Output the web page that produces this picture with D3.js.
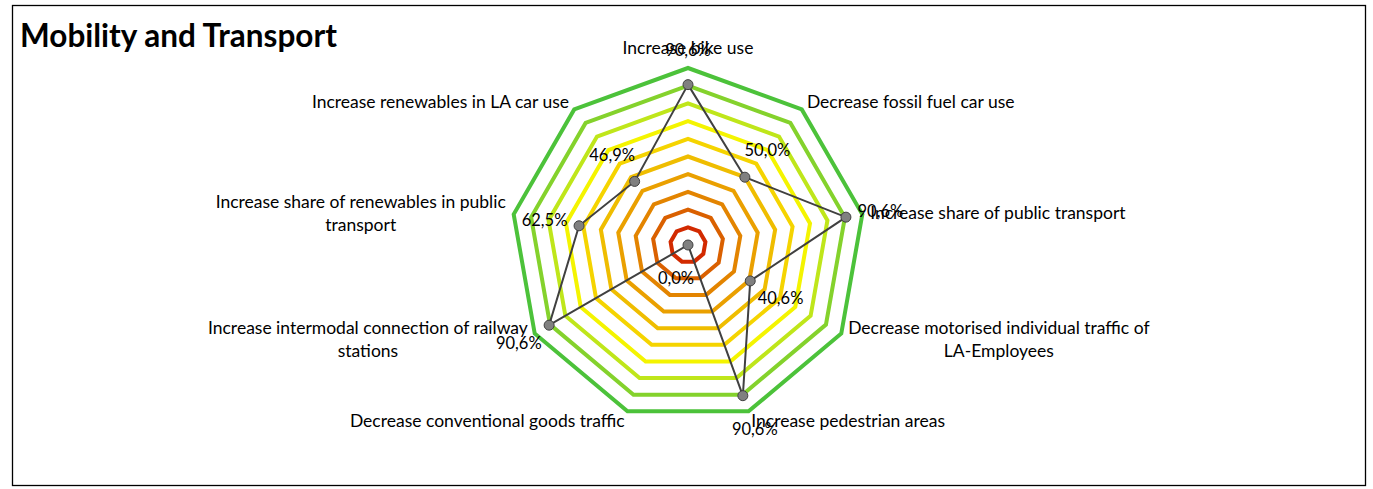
<!DOCTYPE html>
<html>
<head>
<meta charset="utf-8">
<script src="https://cdn.jsdelivr.net/npm/d3@7"></script>
<style>
  html, body { margin: 0; padding: 0; background: #fff; }
  svg { display: block; }
  text { font-family: Lato, "Open Sans", sans-serif; fill: #000; }
</style>
</head>
<body>
<svg id="chart" width="1373" height="489"></svg>
<script>
// Axis labels, clockwise from the top
const categories = [
  "Increase bike use",
  "Decrease fossil fuel car use",
  "Increase share of public transport",
  "Decrease motorised individual traffic of|LA-Employees",
  "Increase pedestrian areas",
  "Decrease conventional goods traffic",
  "Increase intermodal connection of railway|stations",
  "Increase share of renewables in public|transport",
  "Increase renewables in LA car use"
];
// Achievement per category (share of target)
const values = [0.906, 0.500, 0.906, 0.406, 0.906, 0.000, 0.906, 0.625, 0.469];
// Background rings from 10% to 100%
const ringLevels = [0.1, 0.2, 0.3, 0.4, 0.5, 0.6, 0.7, 0.8, 0.9, 1.0];
const ringColors = ["#d22a00", "#da6000", "#e38400", "#eaa000", "#efbd00",
                    "#f5d400", "#f4f400", "#bfe61a", "#84d22c", "#4cc23a"];

const svg = d3.select("#chart");
const cx = 688, cy = 245, R = 177;

// frame
svg.append("rect")
  .attr("x", 12.5).attr("y", 5.5).attr("width", 1353).attr("height", 480)
  .attr("fill", "#fff").attr("stroke", "#000").attr("stroke-width", 1.3);

svg.append("text")
  .attr("x", 20).attr("y", 47)
  .attr("font-size", 31.5).attr("font-weight", "bold")
  .text("Mobility and Transport");

const n = categories.length;
const angle = d3.scaleLinear().domain([0, n]).range([0, 2 * Math.PI]);
const radius = d3.scaleLinear().domain([0, 1]).range([0, R]);
const pt = (i, v) => [cx + radius(v) * Math.sin(angle(i)), cy - radius(v) * Math.cos(angle(i))];

const g = svg.append("g");

// rings
const ringLine = d3.line();
ringLevels.forEach((lv, k) => {
  const pts = d3.range(n).map(i => pt(i, lv));
  g.append("path")
    .attr("d", ringLine(pts) + "Z")
    .attr("fill", "none")
    .attr("stroke", ringColors[k])
    .attr("stroke-width", 4)
    .attr("stroke-linejoin", "miter");
});

// data polygon
const dataPts = values.map((v, i) => pt(i, v));
g.append("path")
  .attr("d", d3.line()(dataPts) + "Z")
  .attr("fill", "none")
  .attr("stroke", "#404040")
  .attr("stroke-width", 2);

g.selectAll("circle.m")
  .data(values)
  .join("circle")
  .attr("class", "m")
  .attr("cx", (v, i) => pt(i, v)[0])
  .attr("cy", (v, i) => pt(i, v)[1])
  .attr("r", 5)
  .attr("fill", "#808080")
  .attr("stroke", "#404040")
  .attr("stroke-width", 1);

// data labels, placed radially outside each marker
const locale = d3.formatLocale({ decimal: ",", thousands: ".", grouping: [3], currency: ["", "€"] });
const fmt = locale.format(".1%");
g.selectAll("text.v")
  .data(values)
  .join("text")
  .attr("class", "v")
  .attr("x", (v, i) => pt(i, v)[0] + 35 * Math.sin(angle(i)))
  .attr("y", (v, i) => pt(i, v)[1] - 35 * Math.cos(angle(i)))
  .attr("text-anchor", "middle")
  .attr("dominant-baseline", "central")
  .attr("font-size", 16.5)
  .text(d => fmt(d));

// category labels around the outer ring
const lineH = 23;
categories.forEach((c, i) => {
  const a = angle(i);
  const s = Math.sin(a), co = Math.cos(a);
  const [vx, vy] = pt(i, 1);
  const lines = c.split("|");
  const t = g.append("text").attr("font-size", 17.5);
  const spans = lines.map(l => t.append("tspan").text(l));
  const widths = spans.map(sp => sp.node().getComputedTextLength());
  const bw = d3.max(widths);
  let left;
  if (Math.abs(s) < 0.1) left = vx - bw / 2;
  else if (s > 0) left = vx + 8 * s;
  else left = vx + 8 * s - bw;
  const midX = left + bw / 2;
  const midY = vy - 10 * co - (Math.abs(s) < 0.1 ? 11 * co : 0);
  const top = midY - (lines.length - 1) * lineH / 2;
  spans.forEach((sp, k) => {
    sp.attr("x", midX).attr("y", top + k * lineH)
      .attr("text-anchor", "middle")
      .attr("dominant-baseline", "central");
  });
});
</script>
</body>
</html>
